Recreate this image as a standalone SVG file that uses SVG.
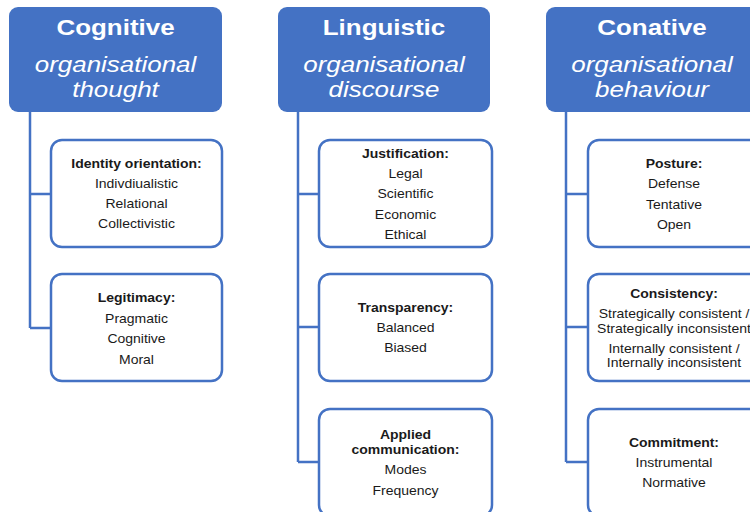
<svg xmlns="http://www.w3.org/2000/svg" width="750" height="512" viewBox="0 0 750 512">
  <style>
    .hdr { fill: #4472C4; }
    .box { fill: #FFFFFF; stroke: #4472C4; stroke-width: 2.5; }
    .link { fill: none; stroke: #4472C4; stroke-width: 2.5; }
    text { font-family: "Liberation Sans", Arial, sans-serif; text-anchor: middle; }
    .ttl { font-size: 22px; font-weight: bold; fill: #FFFFFF; }
    .sub { font-size: 22px; font-style: italic; fill: #FFFFFF; }
    .lbl { font-size: 12.6px; font-weight: bold; fill: #1A1A1A; }
    .itm { font-size: 12.6px; fill: #1A1A1A; }
  </style>
  <rect width="750" height="512" fill="#FFFFFF"/>

  <!-- tree connectors -->
  <g id="connectors">
    <path class="link" d="M30,112 V328 M30,194 H51 M30,328 H51"/>
    <path class="link" d="M298,112 V462 M298,194 H319 M298,327 H319 M298,462 H319"/>
    <path class="link" d="M566,112 V462 M566,194 H588 M566,327 H588 M566,462 H588"/>
  </g>

  <!-- column headers (text widened horizontally) -->
  <g id="cognitive">
    <rect class="hdr" x="9" y="7" width="213" height="105" rx="9"/>
    <g transform="translate(115.5,0) scale(1.18,1)">
      <text class="ttl" x="0" y="35">Cognitive</text>
      <text class="sub" x="0" y="72.5">organisational</text>
      <text class="sub" x="0" y="97.5">thought</text>
    </g>
  </g>
  <g id="linguistic">
    <rect class="hdr" x="278" y="7" width="212" height="105" rx="9"/>
    <g transform="translate(384,0) scale(1.18,1)">
      <text class="ttl" x="0" y="35">Linguistic</text>
      <text class="sub" x="0" y="72.5">organisational</text>
      <text class="sub" x="0" y="97.5">discourse</text>
    </g>
  </g>
  <g id="conative">
    <rect class="hdr" x="546" y="7" width="213" height="105" rx="9"/>
    <g transform="translate(652,0) scale(1.18,1)">
      <text class="ttl" x="0" y="35">Conative</text>
      <text class="sub" x="0" y="72.5">organisational</text>
      <text class="sub" x="0" y="97.5">behaviour</text>
    </g>
  </g>

  <!-- cognitive children -->
  <g id="identity-orientation">
    <rect class="box" x="51" y="140" width="171" height="107" rx="11"/>
    <g transform="translate(136.5,0) scale(1.11,1)">
      <text class="lbl" x="0" y="168">Identity orientation:</text>
      <text class="itm" x="0" y="188.5">Indivdiualistic</text>
      <text class="itm" x="0" y="208.5">Relational</text>
      <text class="itm" x="0" y="228.5">Collectivistic</text>
    </g>
  </g>
  <g id="legitimacy">
    <rect class="box" x="51" y="274" width="171" height="107" rx="11"/>
    <g transform="translate(136.5,0) scale(1.11,1)">
      <text class="lbl" x="0" y="302">Legitimacy:</text>
      <text class="itm" x="0" y="323">Pragmatic</text>
      <text class="itm" x="0" y="343.5">Cognitive</text>
      <text class="itm" x="0" y="364">Moral</text>
    </g>
  </g>

  <!-- linguistic children -->
  <g id="justification">
    <rect class="box" x="319" y="140" width="173" height="107" rx="11"/>
    <g transform="translate(405.5,0) scale(1.11,1)">
      <text class="lbl" x="0" y="158">Justification:</text>
      <text class="itm" x="0" y="178">Legal</text>
      <text class="itm" x="0" y="198.5">Scientific</text>
      <text class="itm" x="0" y="219">Economic</text>
      <text class="itm" x="0" y="239">Ethical</text>
    </g>
  </g>
  <g id="transparency">
    <rect class="box" x="319" y="274" width="173" height="107" rx="11"/>
    <g transform="translate(405.5,0) scale(1.11,1)">
      <text class="lbl" x="0" y="312">Transparency:</text>
      <text class="itm" x="0" y="332">Balanced</text>
      <text class="itm" x="0" y="352">Biased</text>
    </g>
  </g>
  <g id="applied-communication">
    <rect class="box" x="319" y="409" width="173" height="107" rx="11"/>
    <g transform="translate(405.5,0) scale(1.11,1)">
      <text class="lbl" x="0" y="439">Applied</text>
      <text class="lbl" x="0" y="454">communication:</text>
      <text class="itm" x="0" y="474">Modes</text>
      <text class="itm" x="0" y="495">Frequency</text>
    </g>
  </g>

  <!-- conative children -->
  <g id="posture">
    <rect class="box" x="588" y="140" width="173" height="107" rx="11"/>
    <g transform="translate(674,0) scale(1.11,1)">
      <text class="lbl" x="0" y="168">Posture:</text>
      <text class="itm" x="0" y="188">Defense</text>
      <text class="itm" x="0" y="209">Tentative</text>
      <text class="itm" x="0" y="229">Open</text>
    </g>
  </g>
  <g id="consistency">
    <rect class="box" x="588" y="274" width="173" height="107" rx="11"/>
    <g transform="translate(674,0) scale(1.11,1)">
      <text class="lbl" x="0" y="298">Consistency:</text>
      <text class="itm" x="0" y="318">Strategically consistent /</text>
      <text class="itm" x="0" y="333.5">Strategically inconsistent</text>
      <text class="itm" x="0" y="353">Internally consistent /</text>
      <text class="itm" x="0" y="367.5">Internally inconsistent</text>
    </g>
  </g>
  <g id="commitment">
    <rect class="box" x="588" y="409" width="173" height="107" rx="11"/>
    <g transform="translate(674,0) scale(1.11,1)">
      <text class="lbl" x="0" y="447">Commitment:</text>
      <text class="itm" x="0" y="467">Instrumental</text>
      <text class="itm" x="0" y="487">Normative</text>
    </g>
  </g>
</svg>
